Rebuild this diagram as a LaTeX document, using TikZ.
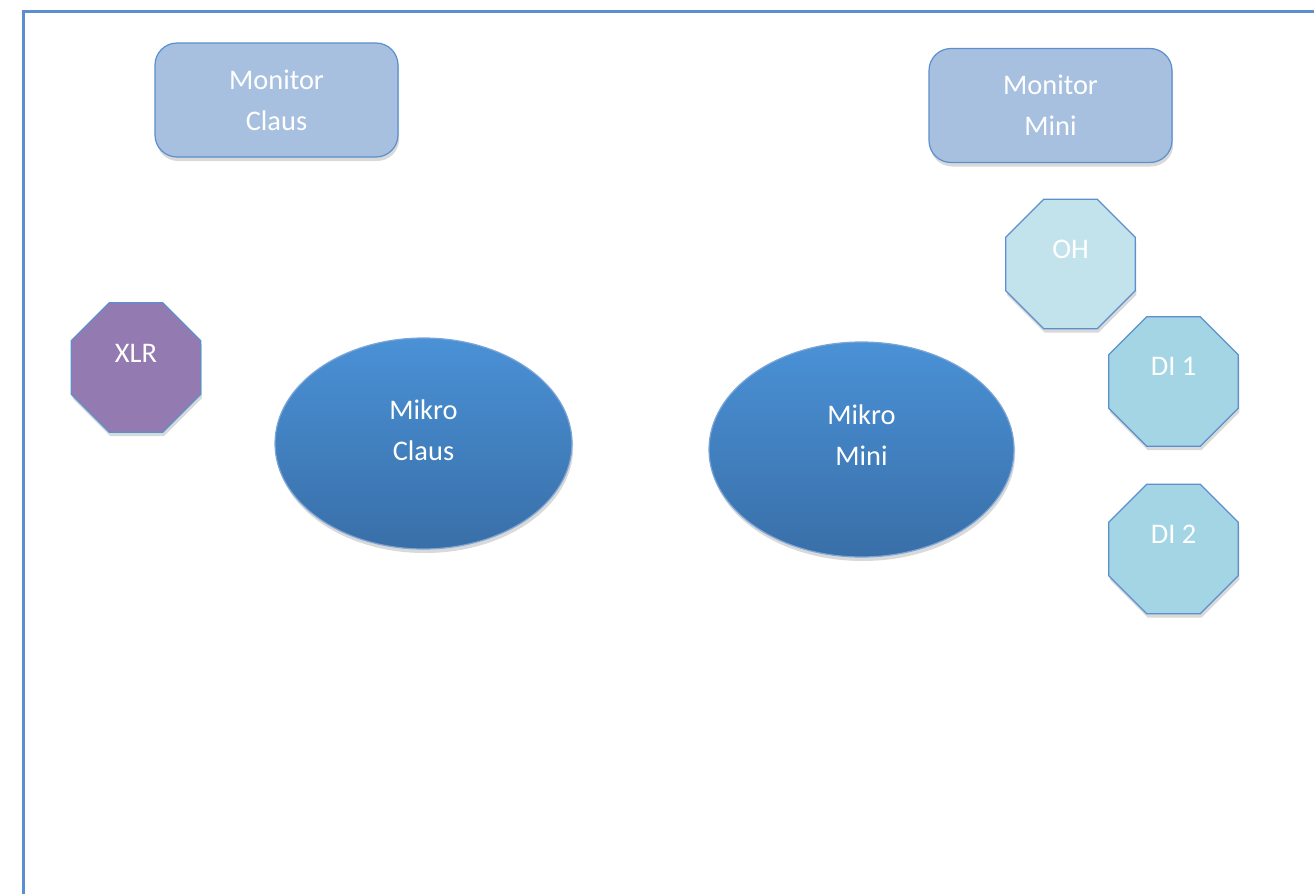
\documentclass[tikz,border=0pt]{standalone}
\usepackage{fontspec}
\setmainfont{Carlito}
\usetikzlibrary{shapes.geometric, shadows}

\definecolor{frameblue}{RGB}{91,143,205}
\definecolor{monfill}{RGB}{167,192,223}
\definecolor{ohfill}{RGB}{195,227,236}
\definecolor{difill}{RGB}{163,213,228}
\definecolor{xlrfill}{RGB}{147,122,176}
\definecolor{mictop}{RGB}{74,145,214}
\definecolor{micbot}{RGB}{57,111,168}

\tikzset{
	tag/.style = {text = white, align = center, font = \fontsize{14.2}{20.5}\selectfont},
	base/.style = {draw = frameblue, line width = 0.6pt, tag,
		drop shadow = {shadow xshift = 0.6pt, shadow yshift = -2pt, opacity = 0.3}},
	monitor/.style = {base, rectangle, rounded corners = 11pt, fill = monfill,
		minimum width = 121.5pt, minimum height = 57pt},
	octa/.style = {base, regular polygon, regular polygon sides = 8, minimum size = 70pt},
	mikro/.style = {base, ellipse, draw = frameblue!80, top color = mictop, bottom color = micbot},
}

\begin{document}
\begin{tikzpicture}[x = 0.5pt, y = -0.5pt]
	\useasboundingbox (0, 0) rectangle (1314, 894);
	\clip (0, 0) rectangle (1314, 894);
	\draw[frameblue, line width = 1.5pt] (23, 900) -- (23, 11) -- (1320, 11);

	% monitors
	\node[monitor] (monC) at (276.5, 100) {Monitor\\Claus};
	\node[monitor] (monM) at (1050.5, 105.5) {Monitor\\Mini};

	% inputs
	\node[octa, fill = ohfill, label = {[tag, yshift = 7.5pt]center:OH}] (oh) at (1070.5, 264) {};
	\node[octa, fill = xlrfill, label = {[tag, yshift = 7pt]center:XLR}] (xlr) at (136, 367.5) {};
	\node[octa, fill = difill, label = {[tag, yshift = 7.5pt]center:DI 1}] (di1) at (1173.5, 381.5) {};
	\node[octa, fill = difill, label = {[tag, yshift = 7.5pt]center:DI 2}] (di2) at (1173.5, 549) {};

	% mics
	\node[mikro, minimum width = 148.5pt, minimum height = 105.5pt,
		label = {[tag, yshift = 6.75pt]center:Mikro\\Claus}] (mikC) at (423.5, 443.5) {};
	\node[mikro, minimum width = 152.5pt, minimum height = 107.5pt,
		label = {[tag, yshift = 7pt]center:Mikro\\Mini}] (mikM) at (861.5, 449.5) {};
\end{tikzpicture}
\end{document}
